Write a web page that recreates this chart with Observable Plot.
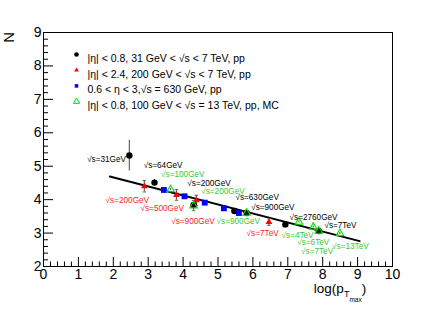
<!DOCTYPE html>
<html><head><meta charset="utf-8">
<script src="https://cdn.jsdelivr.net/npm/d3@7"></script>
<script src="https://cdn.jsdelivr.net/npm/@observablehq/plot@0.6"></script>
<style>
body{margin:0;background:#fff}
svg{font-family:"Liberation Sans",Arial,Helvetica,sans-serif}
</style>
</head><body><div id="chart"></div>
<script>
// ---- data ----
const seriesNames = [
  "|η| < 0.8, 31 GeV < √s < 7 TeV, pp",
  "|η| < 2.4, 200 GeV < √s < 7 TeV, pp",
  "0.6 < η < 3,√s = 630 GeV, pp",
  "|η| < 0.8, 100 GeV < √s = 13 TeV, pp, MC"
];
const blackX = [2.46, 3.18, 4.30, 5.47, 5.82, 6.93, 7.89];
const blackY = [5.32, 4.51, 3.84, 3.66, 3.60, 3.26, 3.06];
const blackErr = [0.46, 0.09, 0.10, 0.05, 0.04, 0.04, 0.04];

const redX = [2.89, 3.81, 4.38, 6.46];
const redY = [4.40, 4.14, 3.98, 3.33];
const redErr = [0.17, 0.16, 0.15, 0.10];

const blueX = [3.45, 4.04, 4.62, 5.17, 5.60];
const blueY = [4.29, 4.10, 3.91, 3.74, 3.60];
const blueErr = [0.05, 0.05, 0.06, 0.07, 0.07];

const greenX = [3.64, 4.30, 5.82, 7.32, 7.73, 7.89, 8.49];
const greenY = [4.30, 3.82, 3.60, 3.33, 3.18, 3.06, 2.99];
const greenErr = [0.03, 0.15, 0.04, 0.03, 0.03, 0.03, 0.03];

const fitX = [1.90, 9.06];
const fitY = [4.69, 2.76];

// annotation labels (text, anchor x, anchor y in data units)
const blackLabels = ["√s=31GeV","√s=64GeV","√s=200GeV","√s=630GeV","√s=900GeV","√s=2760GeV","√s=7TeV"];
const blackLabelX = [1.25, 2.87, 4.12, 5.50, 5.95, 7.05, 8.05];
const blackLabelY = [5.19, 5.04, 4.50, 4.07, 3.77, 3.46, 3.22];
const redLabels = ["√s=200GeV","√s=500GeV","√s=900GeV","√s=7TeV"];
const redLabelX = [1.78, 2.78, 3.66, 5.82];
const redLabelY = [3.97, 3.74, 3.36, 2.99];
const greenLabels = ["√s=100GeV","√s=200GeV","√s=900GeV","√s=4TeV","√s=6TeV","√s=7TeV","√s=13TeV"];
const greenLabelX = [3.37, 4.52, 4.96, 6.82, 7.27, 7.38, 8.27];
const greenLabelY = [4.75, 4.26, 3.35, 2.93, 2.71, 2.46, 2.61];

const xTicks = d3.range(0, 11, 1);
const yTicks = d3.range(2, 10, 1);

// ---- build tables ----
const colors = ["#000000", "#ff0000", "#0000ff", "#00e000"];
const symbols = ["circle", "triangle", "square", "triangle"];
const legendR = [2.3, 1.8, 2.0, 2.3];
const mk = (xs, ys, es, s) => xs.map((x, i) => ({x, y: ys[i], e: es[i], s}));
const black = mk(blackX, blackY, blackErr, 0);
const red = mk(redX, redY, redErr, 1);
const blue = mk(blueX, blueY, blueErr, 2);
const green = mk(greenX, greenY, greenErr, 3);
const all = [...black, ...red, ...blue, ...green];
const fit = fitX.map((x, i) => ({x, y: fitY[i]}));
const lab = (t, xs, ys, c) => t.map((text, i) => ({text, x: xs[i], y: ys[i], c}));
const labels = [
  ...lab(blackLabels, blackLabelX, blackLabelY, "#000000"),
  ...lab(redLabels, redLabelX, redLabelY, "#ff2020"),
  ...lab(greenLabels, greenLabelX, greenLabelY, "#33cc33")
];
const minorX = d3.range(0, 50).map(i => i * 0.2).filter(v => Math.abs(v - Math.round(v)) > 1e-6);
const minorY = d3.range(10, 46).map(i => i * 0.2).filter(v => Math.abs(v - Math.round(v)) > 1e-6);

const capW = 0.05;
const legendMarks = seriesNames.flatMap((name, i) => [
  Plot.dot([name], {frameAnchor: "top-left", dx: 33, dy: 22 + i * 15.7,
    symbol: symbols[i], r: legendR[i],
    fill: i === 3 ? "none" : colors[i], stroke: i === 3 ? colors[i] : "none", strokeWidth: 1}),
  Plot.text([name], {frameAnchor: "top-left", dx: 44, dy: 22 + i * 15.7, text: d => d,
    textAnchor: "start", fontSize: 10.5, fill: "#000"})
]);

const chart = Plot.plot({
  width: 436, height: 314,
  marginLeft: 43, marginRight: 44, marginTop: 32, marginBottom: 48,
  x: {domain: [0, 10], label: null},
  y: {domain: [2, 9], label: null},
  style: {fontFamily: "Liberation Sans, Arial, sans-serif", background: "#fff"},
  marks: [
    Plot.frame({stroke: "#000", strokeWidth: 1}),
    // axes
    Plot.axisX({ticks: xTicks, tickSize: 0, tickPadding: 3, fontSize: 14, tickFormat: d => d, fill: "#000"}),
    Plot.axisX({ticks: xTicks, tickSize: -9, text: null}),
    Plot.axisX({ticks: minorX, tickSize: -4.5, text: null}),
    Plot.axisY({ticks: yTicks, tickSize: 0, tickPadding: 2, fontSize: 14, tickFormat: d => d, fill: "#000"}),
    Plot.axisY({ticks: yTicks, tickSize: -10, text: null}),
    Plot.axisY({ticks: minorY, tickSize: -5, text: null}),
    // fit line
    Plot.line(fit, {x: "x", y: "y", stroke: "#000", strokeWidth: 2}),
    // error bars
    Plot.ruleX(all, {x: "x", y1: d => d.y - d.e, y2: d => d.y + d.e, stroke: "#666", strokeWidth: 1.2}),
    Plot.link(all.filter(d => d.e > 0.08 && d.s !== 0), {x1: d => d.x - capW, x2: d => d.x + capW, y1: d => d.y + d.e, y2: d => d.y + d.e, stroke: "#666"}),
    Plot.link(all.filter(d => d.e > 0.08 && d.s !== 0), {x1: d => d.x - capW, x2: d => d.x + capW, y1: d => d.y - d.e, y2: d => d.y - d.e, stroke: "#666"}),
    // points
    Plot.dot(black, {x: "x", y: "y", symbol: "circle", r: 3.2, fill: colors[0]}),
    Plot.dot(red, {x: "x", y: "y", symbol: "triangle", r: 2.5, fill: colors[1]}),
    Plot.dot(blue, {x: "x", y: "y", symbol: "square", r: 3.3, fill: colors[2]}),
    Plot.dot(green, {x: "x", y: "y", symbol: "triangle", r: 2.8, fill: "none", stroke: colors[3], strokeWidth: 1.1}),
    // annotations
    Plot.text(labels, {x: "x", y: "y", text: "text", fill: "c", textAnchor: "start", fontSize: 8.2}),
    ...legendMarks
  ]
});
document.getElementById("chart").appendChild(chart);

// axis titles
const svg = d3.select(chart);
const xt = svg.append("text").attr("x", 340).attr("y", 293)
  .attr("fill", "#000").attr("font-size", 13.5);
xt.append("tspan").text("log(p");
xt.append("tspan").attr("dy", 4).attr("font-size", 9).text("T");
xt.append("tspan").attr("dy", 5).attr("font-size", 6.5).text("max");
xt.append("tspan").attr("dy", -9).text(")");
svg.append("text").attr("transform", "translate(14,32) rotate(-90)")
  .attr("text-anchor", "end").attr("fill", "#000").attr("font-size", 15).text("N");
</script>
</body></html>
